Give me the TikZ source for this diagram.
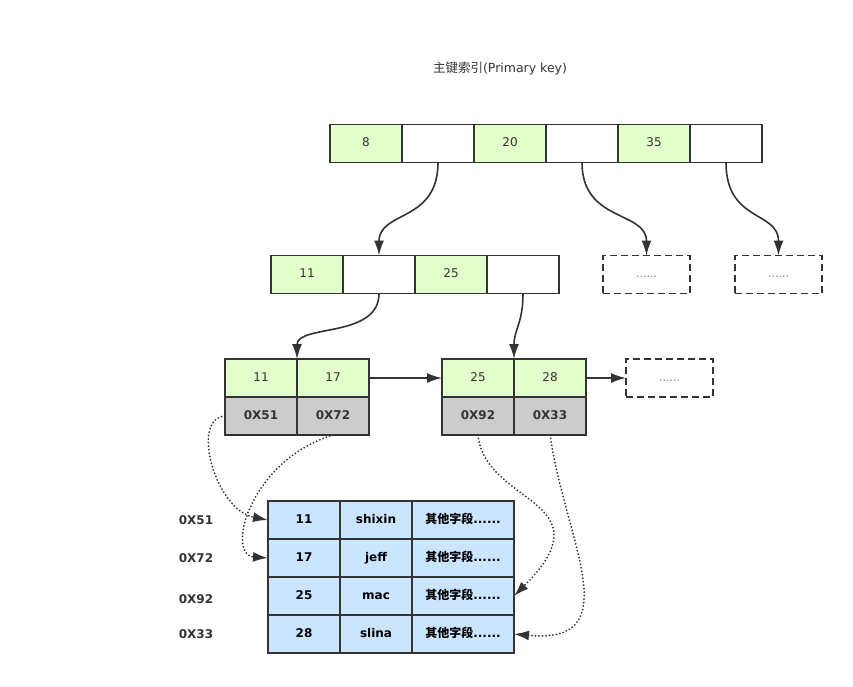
\documentclass[tikz,border=0pt]{standalone}
\usepackage{fontspec}
\setmainfont{DejaVu Sans}
\newfontfamily\cjk{Noto Sans CJK SC}
\usetikzlibrary{calc,arrows.meta}

\definecolor{linec}{HTML}{333333}
\definecolor{keyg}{HTML}{E3FFCC}
\definecolor{addrg}{HTML}{CCCCCC}
\definecolor{rowb}{HTML}{CCE5FF}

\begin{document}
\begin{tikzpicture}[x=1pt,y=-1pt]

\useasboundingbox (0,0) rectangle (853,686);

\tikzstyle{cell}=[draw=linec,line width=1.8pt,minimum width=72pt,minimum height=38pt,inner sep=0pt,outer sep=0pt,text height=9pt,text depth=2.5pt,text=linec,font=\fontsize{12}{14}\selectfont]
\tikzstyle{key}=[cell,fill=keyg]
\tikzstyle{ptr}=[cell,fill=white]
\tikzstyle{addr}=[cell,fill=addrg,font=\fontsize{12}{14}\selectfont\bfseries]
\tikzstyle{more}=[cell,dashed,dash pattern=on 7pt off 4pt,minimum width=87pt,text=gray,font=\fontsize{11}{13}\selectfont]
\tikzstyle{row}=[cell,fill=rowb,text=black,font=\fontsize{12}{14}\selectfont\bfseries]
\tikzstyle{rowaddr}=[text=linec,font=\fontsize{12}{14}\selectfont\bfseries]
\tikzstyle{link}=[draw=linec,line width=1.6pt,-{Latex[length=15pt,width=10pt]}]
\tikzstyle{ref}=[draw=linec,line width=2pt,line cap=round,dash pattern=on 0pt off 3.5pt,-{Latex[length=15pt,width=10pt]}]

\node (title) at (500,69) [text=linec,font=\fontsize{12.5}{14}\selectfont] {{\cjk 主键索引}(Primary key)};

\node (t1) at (366,143.5) [key] {8};
\node (t2) at (438,143.5) [ptr] {};
\node (t3) at (510,143.5) [key] {20};
\node (t4) at (582,143.5) [ptr] {};
\node (t5) at (654,143.5) [key] {35};
\node (t6) at (726,143.5) [ptr] {};

\node (m1) at (307,274.5) [key] {11};
\node (m2) at (379,274.5) [ptr] {};
\node (m3) at (451,274.5) [key] {25};
\node (m4) at (523,274.5) [ptr] {};

\node (md1) at (646.5,274.5) [more] {......};
\node (md2) at (778.5,274.5) [more] {......};

\node (l1) at (261,378) [key] {11};
\node (l2) at (333,378) [key] {17};
\node (a1) at (261,416) [addr] {0X51};
\node (a2) at (333,416) [addr] {0X72};

\node (r1) at (478,378) [key] {25};
\node (r2) at (550,378) [key] {28};
\node (a3) at (478,416) [addr] {0X92};
\node (a4) at (550,416) [addr] {0X33};

\node (rd) at (669.5,378) [more] {......};

\node (d1k) at (304,520) [row] {11};
\node (d1n) at (376,520) [row] {shixin};
\node (d1o) at (463,520) [row,minimum width=102pt] {{\cjk 其他字段}......};
\node (d2k) at (304,558) [row] {17};
\node (d2n) at (376,558) [row] {jeff};
\node (d2o) at (463,558) [row,minimum width=102pt] {{\cjk 其他字段}......};
\node (d3k) at (304,596) [row] {25};
\node (d3n) at (376,596) [row] {mac};
\node (d3o) at (463,596) [row,minimum width=102pt] {{\cjk 其他字段}......};
\node (d4k) at (304,634) [row] {28};
\node (d4n) at (376,634) [row] {slina};
\node (d4o) at (463,634) [row,minimum width=102pt] {{\cjk 其他字段}......};

\node (n1) at (196,520) [rowaddr] {0X51};
\node (n2) at (196,558) [rowaddr] {0X72};
\node (n3) at (196,599) [rowaddr] {0X92};
\node (n4) at (196,634) [rowaddr] {0X33};

\draw [link] (t2.south) .. controls +(0,60) and +(0,-45) .. (m2.north);
\draw [link] (t4.south) .. controls +(0,60) and +(0,-45) .. (md1.north);
\draw [link] (t6.south) .. controls +(0,60) and +(0,-45) .. (md2.north);

\draw [link] (m2.south) .. controls +(0,45) and +(0,-35) .. (l1.north east);
\draw [link] (m4.south) .. controls +(0,30) and +(0,-30) .. (r1.north east);

\draw [link] (l2.east) -- (r1.west);
\draw [link] (r2.east) -- (rd.west);

\draw [ref] (a1.west) .. controls (190,418) and (215,510) .. (d1k.west);
\draw [ref] (a2.south) .. controls (250,460) and (225,555) .. (d2k.west);
\draw [ref] (a3.south) .. controls (485,505) and (610,500) .. (d3o.east);
\draw [ref] (a4.south) .. controls (565,540) and (630,645) .. (d4o.east);

\end{tikzpicture}
\end{document}
